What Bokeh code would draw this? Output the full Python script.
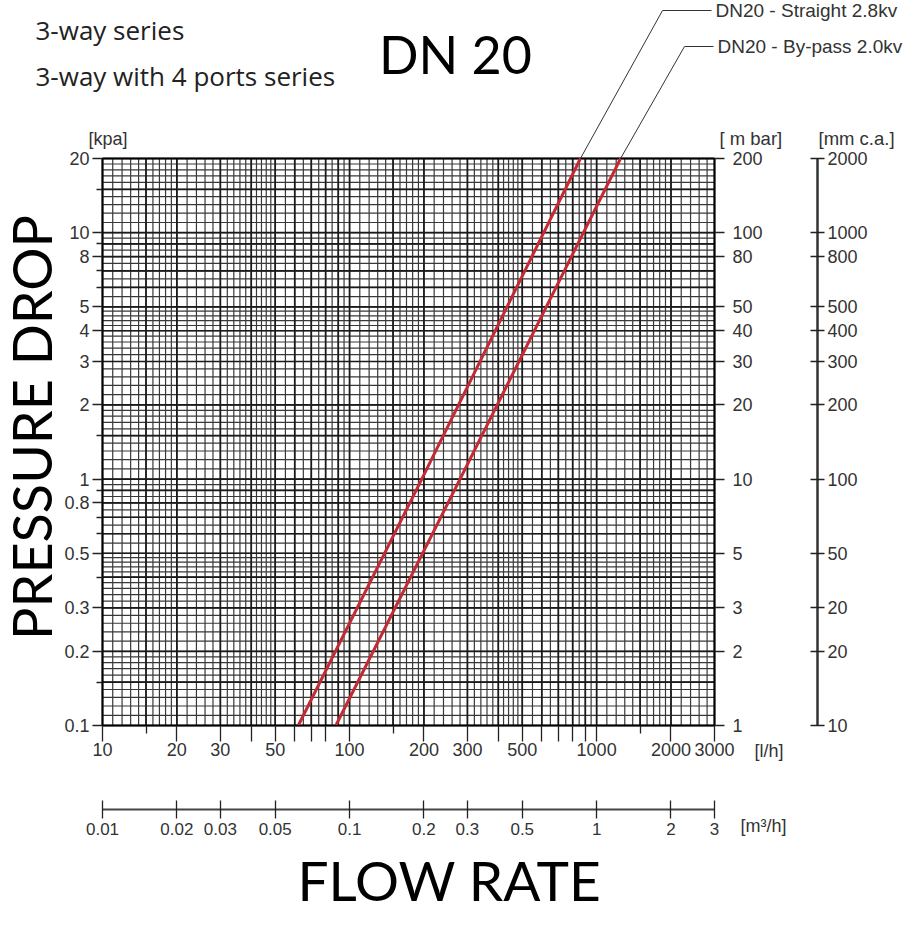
import math
from bokeh.plotting import figure
from bokeh.models import (Range1d, LogAxis, LogScale, FixedTicker, Label,
                          Arrow, CustomJSTickFormatter)
from bokeh.embed import file_html
from bokeh.resources import INLINE

# ---------------- data ----------------
series_names = ["DN20 - Straight 2.8kv", "DN20 - By-pass 2.0kv"]
straight_flow_lh = [62, 196, 860]      # l/h
straight_dp_kpa = [0.1, 1, 20]         # kPa
bypass_flow_lh = [88, 280, 1250]       # l/h
bypass_dp_kpa = [0.1, 1, 20]           # kPa

kpa_ticks = [0.1, 0.2, 0.3, 0.5, 0.8, 1, 2, 3, 4, 5, 8, 10, 20]
kpa_minor = [0.15, 0.4, 0.6, 0.7, 0.9, 1.5, 6, 7, 9, 15]
lh_ticks = [10, 20, 30, 40, 50, 60, 70, 80, 100, 200, 300, 400, 500, 600,
            700, 800, 900, 1000, 2000, 3000]
lh_labels = [10, 20, 30, 50, 100, 200, 300, 500, 1000, 2000, 3000]
lh_minor = [15, 150, 1500]
mbar_ticks = [1, 2, 3, 5, 10, 20, 30, 40, 50, 80, 100, 200]
mmca_ticks = [10, 20, 30, 50, 100, 200, 300, 400, 500, 800, 1000, 2000]
mmca_labels = ["10", "20", "20", "50", "100", "200", "300", "400", "500",
               "800", "1000", "2000"]
m3h_ticks = [0.01, 0.02, 0.03, 0.05, 0.1, 0.2, 0.3, 0.5, 1, 2, 3]

# ---------------- layout ----------------
W, H = 920, 926
FL, FR, FT, FB = 102, 714, 158, 725          # chart box in canvas pixels
X0, X1, Y0, Y1 = 10, 3000, 0.1, 20           # chart box in data units

def fx(px):
    return X0 * (X1 / X0) ** ((px - FL) / (FR - FL))

def fy(py):
    return Y0 * (Y1 / Y0) ** ((FB - py) / (FB - FT))

def paper_lines(decades, top):
    out = []
    for d in decades:
        out += [round(d * (1 + 0.1 * i), 6) for i in range(10)]
        out += [round(d * (2 + 0.2 * i), 6) for i in range(15)]
        out += [round(d * (5 + 0.5 * i), 6) for i in range(10)]
    out.append(top)
    return sorted(set(v for v in out if v <= top))

def major_lines(decades, top):
    out = []
    for d in decades:
        out += [round(d * k, 6) for k in (1, 1.5, 2, 3, 4, 5, 6, 7, 8, 9)]
    out.append(top)
    return sorted(set(v for v in out if v <= top))

p = figure(width=W, height=H, title=None,
           x_axis_type="log", y_axis_type="log",
           x_axis_location=None, y_axis_location=None,
           x_range=Range1d(fx(0), fx(W)), y_range=Range1d(fy(H), fy(0)),
           output_backend="svg", toolbar_location=None,
           min_border=0)
p.x_scale = LogScale()
p.y_scale = LogScale()
p.background_fill_color = "white"
p.border_fill_color = "white"
p.outline_line_color = None
p.grid.visible = False

p.extra_x_ranges = {"m3h": Range1d(fx(0) / 1000, fx(W) / 1000)}
p.extra_x_scales = {"m3h": LogScale()}
p.extra_y_ranges = {"mbar": Range1d(fy(H) * 10, fy(0) * 10),
                    "mmca": Range1d(fy(H) * 100, fy(0) * 100)}
p.extra_y_scales = {"mbar": LogScale(), "mmca": LogScale()}

# ---------------- log-paper grid ----------------
vx = paper_lines([10, 100, 1000], X1)
hy = paper_lines([0.1, 1, 10], Y1)
p.segment(x0=vx, y0=[Y0] * len(vx), x1=vx, y1=[Y1] * len(vx),
          line_color="#383838", line_width=1.2)
p.segment(x0=[X0] * len(hy), y0=hy, x1=[X1] * len(hy), y1=hy,
          line_color="#383838", line_width=1.2)
mvx = major_lines([10, 100, 1000], X1)
mhy = major_lines([0.1, 1, 10], Y1)
p.segment(x0=mvx, y0=[Y0] * len(mvx), x1=mvx, y1=[Y1] * len(mvx),
          line_color="#1a1a1a", line_width=1.7)
p.segment(x0=[X0] * len(mhy), y0=mhy, x1=[X1] * len(mhy), y1=mhy,
          line_color="#1a1a1a", line_width=1.7)
# box border
p.segment(x0=[X0, X1, X0, X0], y0=[Y0, Y0, Y0, Y1],
          x1=[X0, X1, X1, X1], y1=[Y1, Y1, Y0, Y1],
          line_color="black", line_width=1.8)

# ---------------- curves ----------------
p.line(straight_flow_lh, straight_dp_kpa, line_color="#c42a33", line_width=3)
p.line(bypass_flow_lh, bypass_dp_kpa, line_color="#c42a33", line_width=3)

plain = CustomJSTickFormatter(code="return String(tick);")
TF = "Liberation Sans"
TC = "#333333"

def style_axis(ax, size="18px"):
    ax.major_label_text_font = TF
    ax.major_label_text_font_size = size
    ax.major_label_text_color = TC
    ax.axis_line_color = "black"
    ax.major_tick_line_color = "#222222"
    ax.minor_tick_line_color = "#222222"
    ax.major_tick_line_width = 1.3
    ax.minor_tick_line_width = 1.3
    ax.minor_tick_in = 0
    ax.minor_tick_out = 0

# left kPa axis
ya = LogAxis(ticker=FixedTicker(ticks=kpa_ticks, minor_ticks=kpa_minor),
             formatter=plain, fixed_location=X0, bounds=(Y0, Y1))
style_axis(ya)
ya.major_tick_out = 10
ya.major_tick_in = 0
ya.minor_tick_out = 6
ya.major_label_standoff = 3
p.add_layout(ya, "left")

# bottom l/h axis
xa = LogAxis(ticker=FixedTicker(ticks=lh_ticks, minor_ticks=lh_minor),
             formatter=CustomJSTickFormatter(args=dict(show=lh_labels),
                                             code="return show.includes(tick) ? String(tick) : '';"),
             fixed_location=Y0, bounds=(X0, X1))
style_axis(xa)
xa.major_tick_out = 16
xa.major_tick_in = 0
xa.minor_tick_out = 8
xa.major_label_standoff = 1
p.add_layout(xa, "below")

# m3/h axis
m3 = LogAxis(x_range_name="m3h", ticker=FixedTicker(ticks=m3h_ticks), formatter=plain,
             fixed_location=fy(809), bounds=(X0 / 1000, X1 / 1000))
style_axis(m3, "17px")
m3.axis_line_color = "#444444"
m3.axis_line_width = 2
m3.major_tick_in = 9
m3.major_tick_out = 9
m3.major_label_standoff = 4
p.add_layout(m3, "below")

# right m bar axis
mb = LogAxis(y_range_name="mbar", ticker=FixedTicker(ticks=mbar_ticks), formatter=plain,
             fixed_location=X1, bounds=(Y0 * 10, Y1 * 10))
style_axis(mb)
mb.major_tick_out = 10
mb.major_tick_in = 0
mb.major_label_standoff = 8
p.add_layout(mb, "right")

# right mm c.a. axis
mm = LogAxis(y_range_name="mmca", ticker=FixedTicker(ticks=mmca_ticks),
             formatter=CustomJSTickFormatter(args=dict(t=mmca_ticks, l=mmca_labels),
                                             code="const i = t.indexOf(tick); return i >= 0 ? l[i] : String(tick);"),
             fixed_location=fx(817), bounds=(Y0 * 100, Y1 * 100))
style_axis(mm)
mm.axis_line_color = "#333333"
mm.axis_line_width = 2.5
mm.major_tick_out = 7
mm.major_tick_in = 7
mm.major_label_standoff = 3
p.add_layout(mm, "right")

# ---------------- texts ----------------
def lab(text, px, py, size, font=TF, align="left", baseline="middle",
        angle=0.0, color="#222222"):
    p.add_layout(Label(x=X0, y=Y0, x_offset=px - FL, y_offset=FB - py, text=text,
                       text_font=font, text_font_size=size, text_align=align,
                       text_baseline=baseline, angle=angle, text_color=color))

lab("3-way series", 35, 29, "26px", font="Open Sans")
lab("3-way with 4 ports series", 35, 75, "26px", font="Open Sans")
lab("DN 20", 455, 53, "52px", font="Lato", align="center", color="black")
lab("[kpa]", 88, 138, "18px", color=TC)
lab("[ m bar]", 719, 138, "18.5px", color=TC)
lab("[mm c.a.]", 818, 138, "18.5px", color=TC)
lab("[l/h]", 754, 750, "18px", color=TC)
lab("[m\u00b3/h]", 740, 825, "18px", color=TC)
lab(series_names[0], 715, 10, "19px", color=TC)
lab(series_names[1], 717, 46, "19px", color=TC)
lab("FLOW RATE", 449, 879, "55px", font="Lato", align="center", color="black")
lab("PRESSURE DROP", 31, 427, "54px", font="Lato", align="center",
    angle=math.pi / 2, color="black")

# leader lines
def seg(x0, y0, x1, y1):
    p.add_layout(Arrow(end=None, x_start=x0, y_start=y0, x_end=x1, y_end=y1,
                       line_color="#333333", line_width=1))

seg(straight_flow_lh[-1], straight_dp_kpa[-1], fx(662), fy(10))
seg(fx(662), fy(10), fx(711), fy(10))
seg(bypass_flow_lh[-1], bypass_dp_kpa[-1], fx(684), fy(46))
seg(fx(684), fy(46), fx(713), fy(46))

open("out.html", "w").write(file_html(p, INLINE))
